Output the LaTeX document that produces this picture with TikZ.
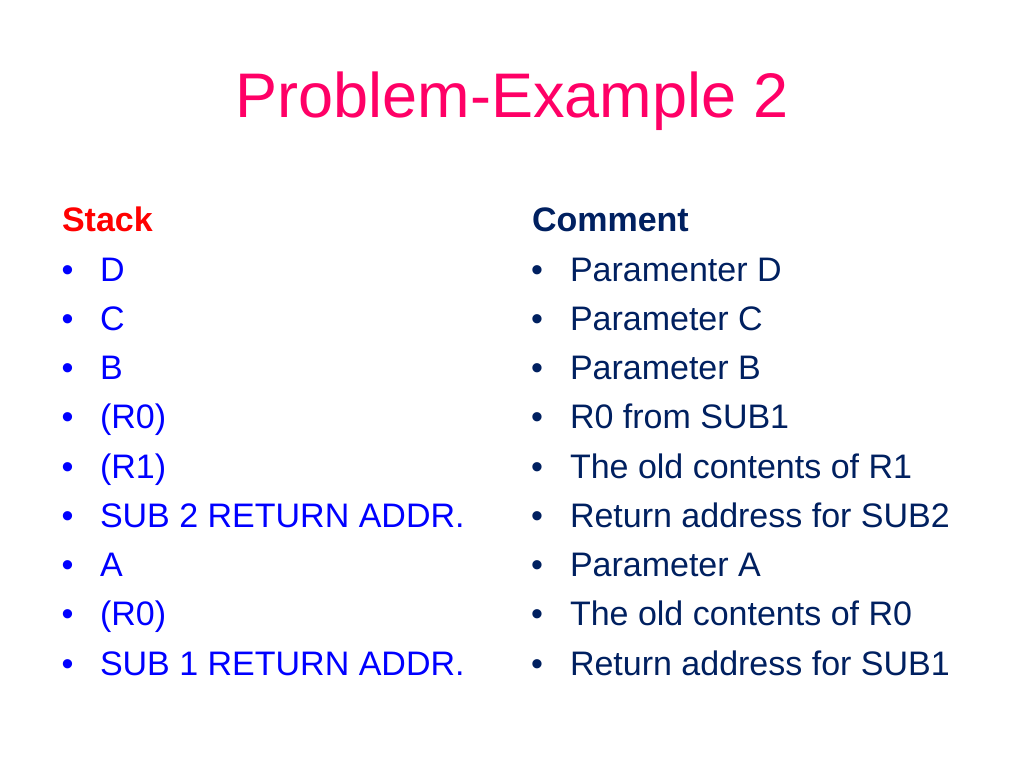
\documentclass[tikz,border=0pt]{standalone}
\usepackage{fontspec}
\setmainfont{Liberation Sans}
\definecolor{titlepink}{HTML}{FF0066}
\definecolor{stackred}{HTML}{FF0000}
\definecolor{navy}{HTML}{002060}
\definecolor{itemblue}{HTML}{0000FF}
\tikzset{
  txt/.style={inner sep=0pt, outer sep=0pt, anchor=base west, font=\fontsize{34}{40}\selectfont},
  bul/.style={inner sep=0pt, outer sep=0pt, anchor=base, font=\fontsize{34}{40}\selectfont},
  head/.style={inner sep=0pt, outer sep=0pt, anchor=base west, font=\fontsize{34}{40}\selectfont\bfseries},
  titletxt/.style={inner sep=0pt, outer sep=0pt, anchor=base, text=titlepink, font=\fontsize{63}{75}\selectfont}
}
\begin{document}
\begin{tikzpicture}[x=1pt,y=-1pt]
\useasboundingbox[fill=white] (0,0) rectangle (1024,768);
\node[titletxt] (title) at (512.5,117) {Problem-Example 2};
\node[head, text=stackred] (stackhead) at (62,231) {Stack};
\node[head, text=navy] (commenthead) at (532,231) {Comment};
\foreach \i/\l/\r in {0/D/Paramenter D, 1/C/Parameter C, 2/B/Parameter B, 3/(R0)/R0 from SUB1, 4/(R1)/The old contents of R1, 5/SUB 2 RETURN ADDR./Return address for SUB2, 6/A/Parameter A, 7/(R0)/The old contents of R0, 8/SUB 1 RETURN ADDR./Return address for SUB1} {
  \pgfmathsetmacro{\yy}{281+49.25*\i}
  \node[bul, text=itemblue] (lb\i) at (67.5,\yy) {•};
  \node[txt, text=itemblue] (l\i) at (100,\yy) {\l};
  \node[bul, text=navy] (rb\i) at (537,\yy) {•};
  \node[txt, text=navy] (r\i) at (570,\yy) {\r};
}
\end{tikzpicture}
\end{document}
